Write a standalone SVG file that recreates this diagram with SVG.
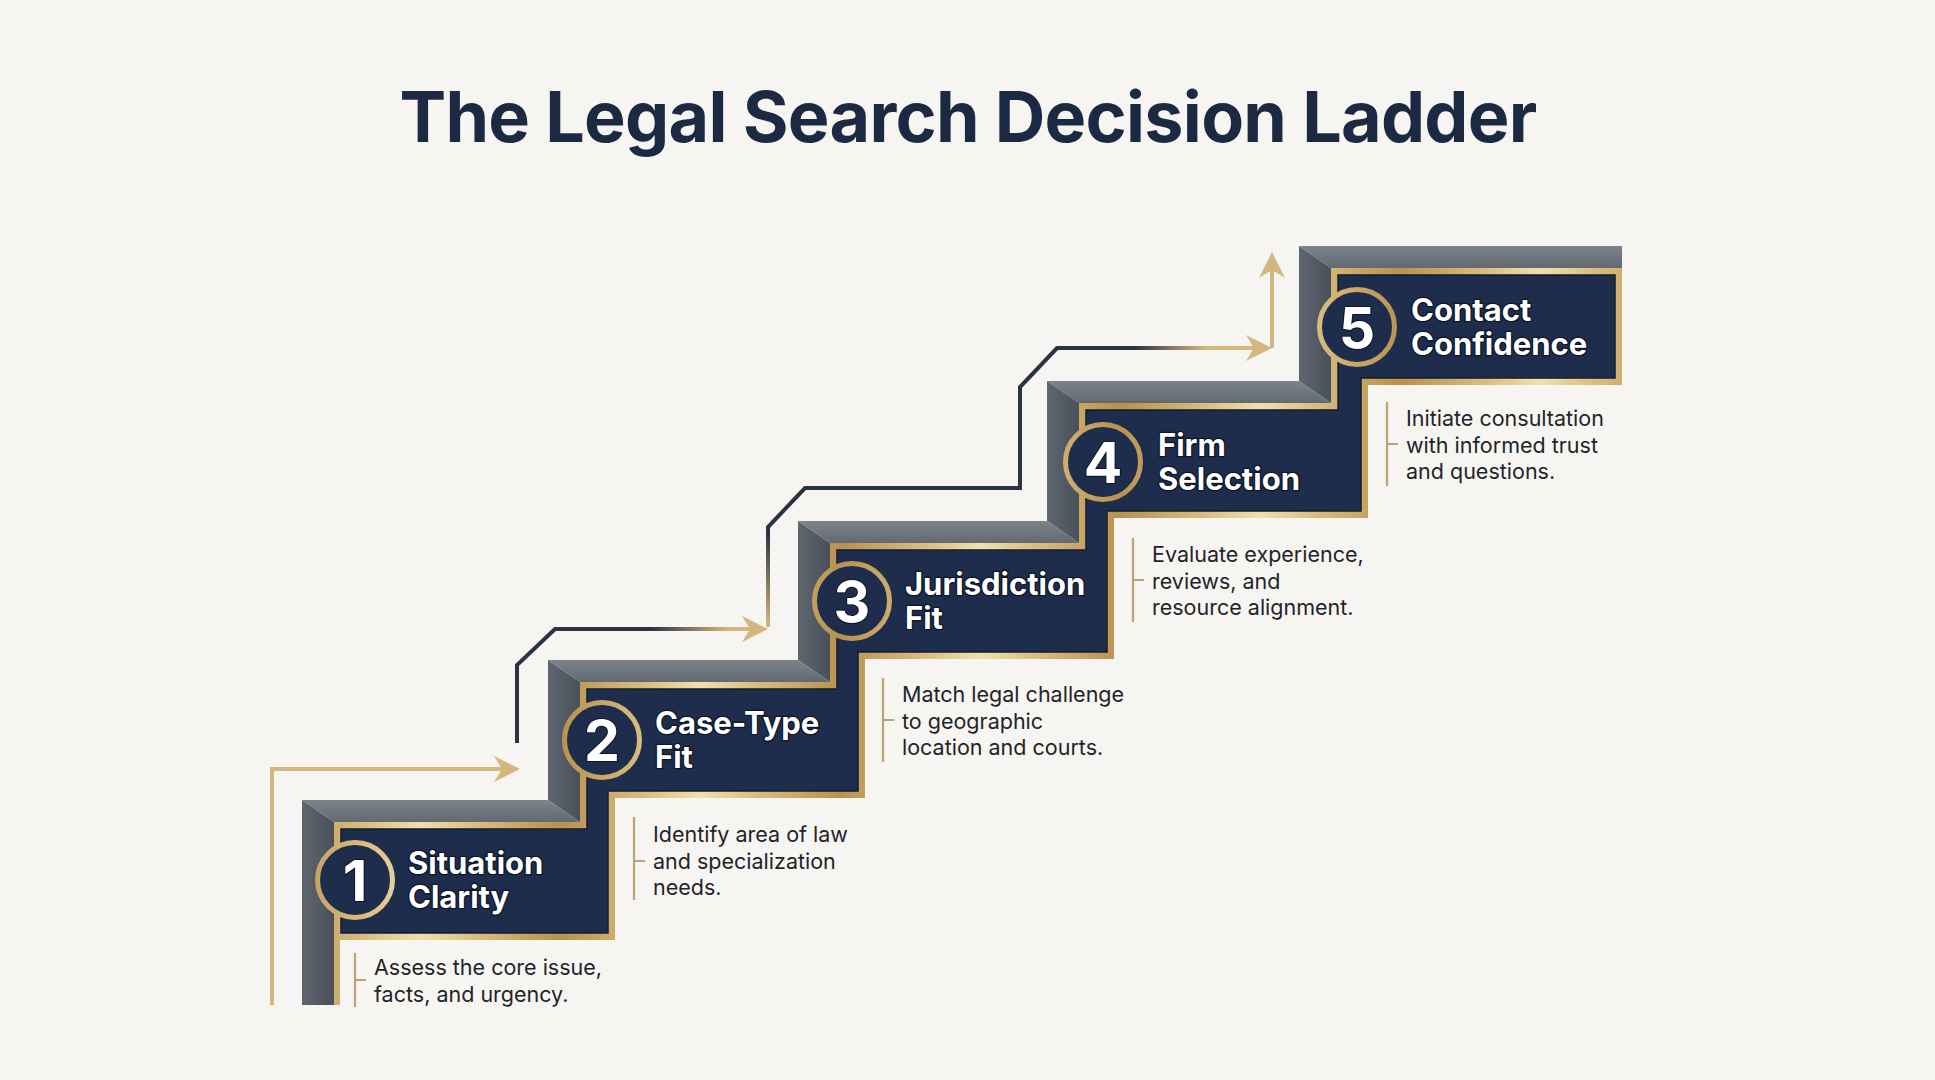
<svg xmlns="http://www.w3.org/2000/svg" width="1935" height="1080" viewBox="0 0 1935 1080">
  <defs>
    <style>
      .title { font-family: Inter, "Liberation Sans", sans-serif; font-weight: 700; font-size: 70px; fill: #1b2a42; letter-spacing: -0.7px; }
      .lbl { font-family: Inter, "Liberation Sans", sans-serif; font-weight: 700; font-size: 31px; fill: #ffffff; stroke: #0c1628; stroke-width: 2.5px; paint-order: stroke; stroke-linejoin: round; }
      .num { font-family: Inter, "Liberation Sans", sans-serif; font-weight: 700; font-size: 57px; fill: #ffffff; text-anchor: middle; stroke: #0c1628; stroke-width: 2px; paint-order: stroke; }
      .desc { font-family: Inter, "Liberation Sans", sans-serif; font-weight: 400; font-size: 21.5px; fill: #1f242b; }
      .brk { stroke: #bea276; stroke-width: 2.2; fill: none; }
      .ring { fill: #1d2d4b; stroke: url(#goldG); stroke-width: 5; }
      .ftop { fill: url(#topG); }
      .fleft { fill: url(#leftG); }
      .conn { fill: none; stroke-width: 4; stroke-linejoin: miter; }
    </style>
    <linearGradient id="goldG" gradientUnits="userSpaceOnUse" x1="0" y1="0" x2="140" y2="0" spreadMethod="reflect">
      <stop offset="0" stop-color="#b8914f"/>
      <stop offset="0.6" stop-color="#d9bd80"/>
      <stop offset="1" stop-color="#f2dfac"/>
    </linearGradient>
    <linearGradient id="topG" x1="0" y1="0" x2="0" y2="1">
      <stop offset="0" stop-color="#7d838b"/>
      <stop offset="1" stop-color="#626971"/>
    </linearGradient>
    <linearGradient id="leftG" x1="0" y1="0" x2="1" y2="0">
      <stop offset="0" stop-color="#5f6670"/>
      <stop offset="1" stop-color="#49505a"/>
    </linearGradient>
    <linearGradient id="gB" gradientUnits="userSpaceOnUse" x1="650" y1="0" x2="728" y2="0">
      <stop offset="0" stop-color="#2a3342"/>
      <stop offset="1" stop-color="#d4b77e"/>
    </linearGradient>
    <linearGradient id="gC" gradientUnits="userSpaceOnUse" x1="768" y1="627" x2="1272" y2="348">
      <stop offset="0" stop-color="#d4b77e"/>
      <stop offset="0.08" stop-color="#2a3342"/>
      <stop offset="0.79" stop-color="#2a3342"/>
      <stop offset="0.9" stop-color="#d4b77e"/>
    </linearGradient>
    <marker id="ah" viewBox="0 0 26 26" markerWidth="26" markerHeight="26" refX="16" refY="13" orient="auto" markerUnits="userSpaceOnUse">
      <path d="M0,0 L26,13 L0,26 L8,13 Z" fill="#d4b77e"/>
    </marker>
  </defs>

  <rect x="0" y="0" width="1935" height="1080" fill="#f6f5f1"/>

  <text class="title" x="968" y="142" text-anchor="middle">The Legal Search Decision Ladder</text>

  <g id="ladder">
    <polygon class="fleft" points="302,800 334,822 334,1005 302,1005"/>
    <polygon class="fleft" points="548,660 580,682 580,822 548,800"/>
    <polygon class="fleft" points="798,521 830,543 830,682 798,660"/>
    <polygon class="fleft" points="1047,381 1079,403 1079,543 1047,521"/>
    <polygon class="fleft" points="1299,246 1331,268 1331,403 1299,381"/>
    <polygon class="ftop" points="302,800 548,800 580,822 334,822"/>
    <polygon class="ftop" points="548,660 798,660 830,682 580,682"/>
    <polygon class="ftop" points="798,521 1047,521 1079,543 830,543"/>
    <polygon class="ftop" points="1047,381 1299,381 1331,403 1079,403"/>
    <polygon class="ftop" points="1299,246 1622,246 1622,268 1331,268"/>
    <polygon fill="url(#goldG)" points="334,822 580,822 580,682 830,682 830,543 1079,543 1079,403 1331,403 1331,268 1622,268 1622,385 1368,385 1368,518 1114,518 1114,659 865,659 865,798 615,798 615,940 334,940"/>
    <rect x="334" y="938" width="6" height="67" fill="url(#goldG)"/>
    <polygon fill="#1d2d4b" stroke="#111c30" stroke-width="1.5" points="341,829 587,829 587,689 837,689 837,550 1086,550 1086,410 1338,410 1338,275 1615,275 1615,378 1361,378 1361,511 1107,511 1107,652 858,652 858,791 608,791 608,933 341,933"/>
  </g>

  <g id="connectors">
    <path class="conn" stroke="#d4b77e" d="M272,1005 V769 H510" marker-end="url(#ah)"/>
    <path class="conn" stroke="url(#gB)" d="M517,743 V665 L555,629 H758" marker-end="url(#ah)"/>
    <path class="conn" stroke="url(#gC)" d="M768,627 V527 L805,488 H1020 V387 L1057,348 H1262" marker-end="url(#ah)"/>
    <path class="conn" stroke="#d4b77e" d="M1272,348 V262" marker-end="url(#ah)"/>
  </g>

  <g id="step1">
    <circle class="ring" cx="355" cy="880" r="37.5"/>
    <text class="num" x="355" y="901">1</text>
    <text class="lbl" x="408" y="874">Situation</text>
    <text class="lbl" x="408" y="908">Clarity</text>
    <path class="brk" d="M355,953 V1007 M355,980 H366"/>
    <text class="desc" x="374" y="975">Assess the core issue,</text>
    <text class="desc" x="374" y="1002">facts, and urgency.</text>
  </g>

  <g id="step2">
    <circle class="ring" cx="602" cy="740" r="37.5"/>
    <text class="num" x="602" y="761">2</text>
    <text class="lbl" x="655" y="734">Case-Type</text>
    <text class="lbl" x="655" y="768">Fit</text>
    <path class="brk" d="M634,817 V900 M634,861 H645"/>
    <text class="desc" x="653" y="842">Identify area of law</text>
    <text class="desc" x="653" y="868.5">and specialization</text>
    <text class="desc" x="653" y="895">needs.</text>
  </g>

  <g id="step3">
    <circle class="ring" cx="852" cy="601" r="37.5"/>
    <text class="num" x="852" y="622">3</text>
    <text class="lbl" x="905" y="595">Jurisdiction</text>
    <text class="lbl" x="905" y="629">Fit</text>
    <path class="brk" d="M883,678 V762 M883,720 H894"/>
    <text class="desc" x="902" y="702">Match legal challenge</text>
    <text class="desc" x="902" y="728.5">to geographic</text>
    <text class="desc" x="902" y="755">location and courts.</text>
  </g>

  <g id="step4">
    <circle class="ring" cx="1103" cy="462" r="37.5"/>
    <text class="num" x="1103" y="483">4</text>
    <text class="lbl" x="1158" y="456">Firm</text>
    <text class="lbl" x="1158" y="490">Selection</text>
    <path class="brk" d="M1133,538 V622 M1133,580 H1144"/>
    <text class="desc" x="1152" y="562">Evaluate experience,</text>
    <text class="desc" x="1152" y="588.5">reviews, and</text>
    <text class="desc" x="1152" y="615">resource alignment.</text>
  </g>

  <g id="step5">
    <circle class="ring" cx="1357" cy="327" r="37.5"/>
    <text class="num" x="1357" y="348">5</text>
    <text class="lbl" x="1411" y="321">Contact</text>
    <text class="lbl" x="1411" y="355">Confidence</text>
    <path class="brk" d="M1387,402 V486 M1387,444 H1398"/>
    <text class="desc" x="1406" y="426">Initiate consultation</text>
    <text class="desc" x="1406" y="452.5">with informed trust</text>
    <text class="desc" x="1406" y="479">and questions.</text>
  </g>
</svg>
